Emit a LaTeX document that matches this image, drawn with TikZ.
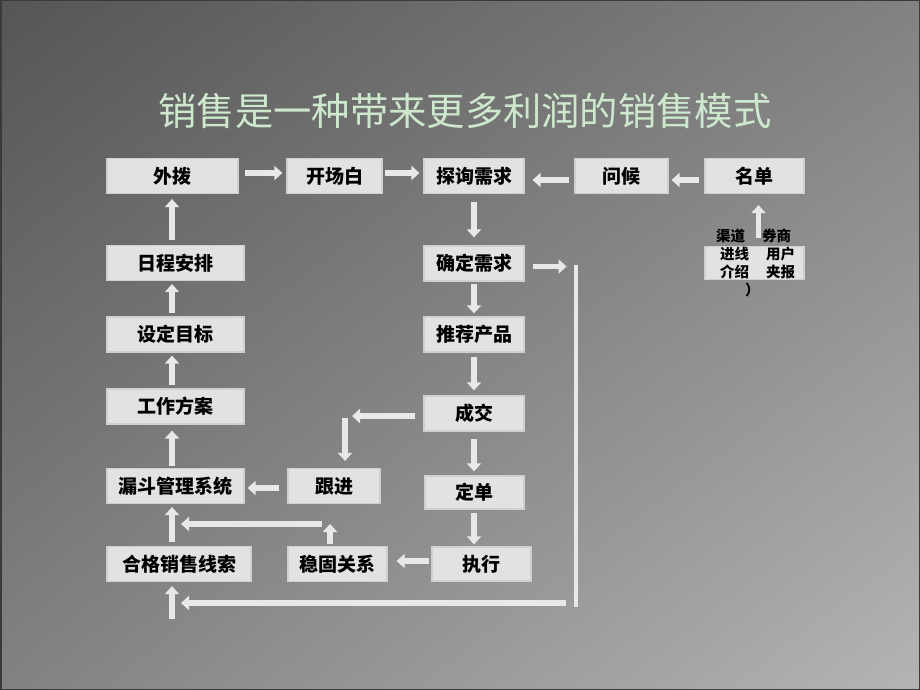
\documentclass[tikz,border=0pt]{standalone}
\usepackage{fontspec}
\newfontfamily\cjk{Noto Sans CJK SC}
\usetikzlibrary{arrows.meta,calc,shadings}
\definecolor{bgA}{HTML}{555555}
\definecolor{bgB}{HTML}{828282}
\definecolor{bgC}{HTML}{B4B4B4}
\definecolor{frame}{HTML}{3A3A3A}
\definecolor{boxfill}{HTML}{E2E2E2}
\definecolor{boxedge}{HTML}{D0D0D0}
\definecolor{arrowc}{HTML}{E8E8E8}
\definecolor{titlec}{HTML}{CDE8CD}
\tikzset{
  box/.style={fill=boxfill, draw=boxedge, line width=1.2pt, minimum height=35pt,
    inner sep=0pt, font=\cjk\bfseries\fontsize{19pt}{21pt}\selectfont, text=black},
  flow/.style={draw=arrowc, line width=5.5pt, -{Triangle[width=14pt,length=8pt]}},
  flowline/.style={draw=arrowc, line width=4pt},
  srctext/.style={font=\cjk\bfseries\fontsize{14.5pt}{17.8pt}\selectfont, text=black, inner sep=0pt, align=center},
  titlestyle/.style={font=\cjk\fontsize{38.3pt}{42pt}\selectfont, text=titlec, inner sep=0pt}
}
\begin{document}
\begin{tikzpicture}[x=1pt,y=-1pt]
\useasboundingbox (0,0) rectangle (920,690);
\shade[upper left=bgA, upper right=bgB, lower left=bgB, lower right=bgC] (0,0) rectangle (920,690);
\draw[frame, line width=1.5pt] (0.75,0.75) rectangle (919.25,689.25);

\node[titlestyle] (title) at (465,111) {销售是一种带来更多利润的销售模式};

% top row
\node[box, minimum width=131pt] (waibo) at (172.5,176) {外拨};
\node[box, minimum width=95pt] (kaichang) at (334.5,176) {开场白};
\node[box, minimum width=100pt] (tanxun) at (474,176) {探询需求};
\node[box, minimum width=93pt] (wenhou) at (621.5,176) {问候};
\node[box, minimum width=99pt] (mingdan) at (754.5,176) {名单};
% left column
\node[box, minimum width=137pt] (richeng) at (175.5,263) {日程安排};
\node[box, minimum width=137pt] (mubiao) at (175.5,334.5) {设定目标};
\node[box, minimum width=137pt] (fangan) at (175.5,406.5) {工作方案};
\node[box, minimum width=137pt] (loudou) at (175.5,486) {漏斗管理系统};
\node[box, minimum width=144pt] (hege) at (179,564) {合格销售线索};
% middle
\node[box, minimum width=92pt] (genjin) at (334,486) {跟进};
\node[box, minimum width=99pt] (wengu) at (337.5,564) {稳固关系};
% right column
\node[box, minimum width=100pt] (queding) at (474,263.5) {确定需求};
\node[box, minimum width=100pt] (tuijian) at (474,334.5) {推荐产品};
\node[box, minimum width=100pt] (chengjiao) at (474,413.5) {成交};
\node[box, minimum width=99pt, minimum height=33pt] (dingdan) at (474.5,492.5) {定单};
\node[box, minimum width=99pt, minimum height=34pt] (zhixing) at (481.5,564) {执行};
% sources
\node[box, minimum width=99pt, minimum height=33pt] (qudao) at (754.5,263) {};
\node[srctext] (qudaotext) at (755.5,265) {%
\begin{tabular}{@{}l@{\hspace{13pt}}l@{}}
渠道 & 券商\\
\hspace{4pt}进线 & \hspace{4pt}用户\\
\hspace{4pt}介绍 & \hspace{4pt}夹报\\
\hspace{29pt}\makebox[0pt][l]{）} &
\end{tabular}};

% coordinates for free ends
\coordinate (rtop) at (576,265);
\coordinate (rbot) at (576,607);
\coordinate (bstart) at (566,603);
\coordinate (bend) at (181,603);
\coordinate (bup) at (172,619);
\coordinate (cleft) at (352,416);
\coordinate (cdown) at (345,418);
\coordinate (wup) at (330,524);
\coordinate (wleft) at (322,524);
\coordinate (wend) at (181,524);

% top row arrows
\draw[flow] ($(waibo.east)+(6,-3)$) -- ($(kaichang.west)+(-4,-3)$);
\draw[flow] ($(kaichang.east)+(2,-3)$) -- ($(tanxun.west)+(-4,-3)$);
\draw[flow] ($(wenhou.west)+(-5,4)$) -- ($(tanxun.east)+(8,4)$);
\draw[flow] ($(mingdan.west)+(-5,4)$) -- ($(wenhou.east)+(3,4)$);
\draw[flow] ($(qudao.north)+(4,-8)$) -- ($(mingdan.south)+(4,11)$);

% middle column
\draw[flow] ($(tanxun.south)+(0,8)$) -- ($(queding.north)+(0,-8)$);
\draw[flow] ($(queding.south)+(0,2)$) -- ($(tuijian.north)+(0,-3)$);
\draw[flow] ($(tuijian.south)+(0,4)$) -- ($(chengjiao.north)+(0,-5)$);
\draw[flow] ($(chengjiao.south)+(0,7)$) -- ($(dingdan.north)+(-0.5,-4)$);
\draw[flow] ($(dingdan.south)+(-0.5,3)$) -- ($(dingdan.south |- zhixing.north)+(-0.5,-2)$);

% loop from 确定需求 around to 合格销售线索
\draw[flow] ($(queding.east)+(8,3)$) -- ($(queding.east)+(42,3)$);
\draw[flowline] (rtop) -- (rbot);
\draw[flow] (bstart) -- (bend);
\draw[flow] (bup) -- ($(bup |- hege.south)+(0,4)$);

% 成交 -> 跟进
\draw[flow] ($(chengjiao.west)+(-8,2.5)$) -- (cleft);
\draw[flow] (cdown) -- ($(cdown |- genjin.north)+(0,-7)$);

% 跟进 -> 漏斗管理系统
\draw[flow] ($(genjin.west)+(-8,2)$) -- ($(loudou.east)+(3,2)$);
% 执行 -> 稳固关系
\draw[flow] ($(zhixing.west)+(-2,-3)$) -- ($(wengu.east)+(9,-3)$);
% 稳固关系 -> 漏斗管理系统
\draw[flow] ($(wup |- wengu.north)+(0,-2)$) -- ($(wup)+(0,0)$);
\draw[flow] (wleft) -- (wend);

% left column upward
\draw[flow] ($(hege.north -| waibo.south)+(-0.5,-4)$) -- ($(loudou.south -| waibo.south)+(-0.5,3)$);
\draw[flow] ($(loudou.north -| waibo.south)+(-0.5,-2)$) -- ($(fangan.south -| waibo.south)+(-0.5,6)$);
\draw[flow] ($(fangan.north -| waibo.south)+(-0.5,-3)$) -- ($(mubiao.south -| waibo.south)+(-0.5,3)$);
\draw[flow] ($(mubiao.north -| waibo.south)+(-0.5,-3)$) -- ($(richeng.south -| waibo.south)+(-0.5,3)$);
\draw[flow] ($(richeng.north -| waibo.south)+(-0.5,-5)$) -- ($(waibo.south)+(-0.5,5)$);
\end{tikzpicture}
\end{document}
